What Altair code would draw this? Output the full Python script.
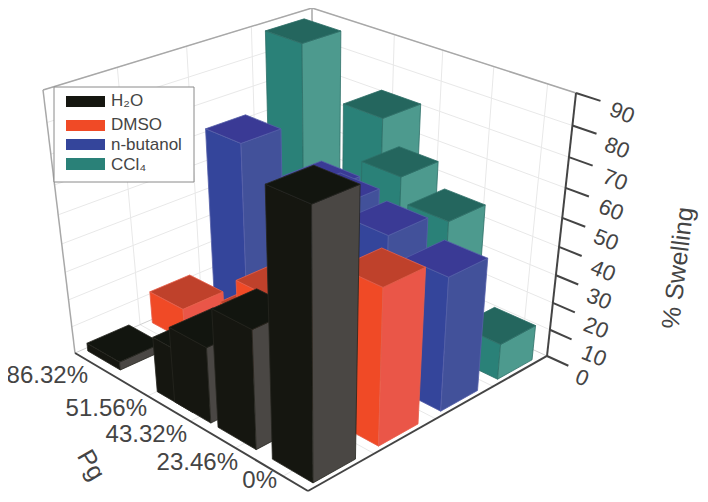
import numpy as np
import pandas as pd
import altair as alt

# ---- chart values ----
pg_levels = [86.32, 51.56, 43.32, 23.46, 0.0]
pg_labels = ["86.32%", "51.56%", "43.32%", "23.46%", "0%"]
solvents = ["H₂O", "DMSO", "n-butanol", "CCl₄"]
h2o = [3, 20, 27, 41.5, 88]
dmso = [12, 22, 33, 30, 54]
butanol = [62, 56.5, 55, 52, 47]
ccl4 = [88, 73, 56, 47.5, 13]
swelling_ticks = [0, 10, 20, 30, 40, 50, 60, 70, 80, 90]

# ---- styling ----
top_col = ["#12150f", "#bf412b", "#3a3a95", "#24665e"]
left_col = ["#151610", "#f04a26", "#34459b", "#2a8178"]
right_col = ["#4a4744", "#ea5648", "#42519a", "#4d9a8e"]
edge_col = ["#26261f", "#e8604a", "#5560a8", "#2f7068"]
text_col = "#444444"
font = "Liberation Sans"

# ---- 3D frame calibration ----
corners = [((0, 0, 0), (308, 491)), ((1, 0, 0), (75, 353)), ((0, 1, 0), (547, 356)),
           ((1, 0, 1), (43, 90)), ((0, 1, 1), (576, 93)), ((1, 1, 1), (312, 8))]
rows = []
for (X, Y, Z), (a, b) in corners:
    a, b = a / 500, b / 500
    rows.append([X, Y, Z, 1, 0, 0, 0, 0, -a * X, -a * Y, -a * Z, -a])
    rows.append([0, 0, 0, 0, X, Y, Z, 1, -b * X, -b * Y, -b * Z, -b])
P = np.linalg.svd(np.array(rows, float))[2][-1].reshape(3, 4)


def proj(u, v, w):
    q = P @ np.array([u, v, w, 1.0])
    return [float(q[0] / q[2] * 500 - 8), float(q[1] / q[2] * 500 - 8)]


def u_of(pg):
    return 0.095 + pg * 0.81 / 86.32


HALF_U, HALF_V = 0.078, 0.08
v_centers = [0.115, 0.365, 0.62, 0.87]
series = [h2o, dmso, butanol, ccl4]

# ---- bar faces, painted back to front ----
features = []


def face(points, fill, stroke):
    ring = [proj(*p) for p in points]
    ring.append(ring[0])
    features.append({"type": "Feature", "geometry": {"type": "Polygon", "coordinates": [ring]},
                     "properties": {"fill": fill, "stroke": stroke}})


for i, pg in enumerate(pg_levels):
    for s in [3, 2, 1, 0]:
        w = series[s][i] / 90
        u0, u1 = u_of(pg) - HALF_U, u_of(pg) + HALF_U
        v0, v1 = v_centers[s] - HALF_V, v_centers[s] + HALF_V
        face([(u0, v0, 0), (u1, v0, 0), (u1, v0, w), (u0, v0, w)], left_col[s], edge_col[s])
        face([(u0, v0, 0), (u0, v1, 0), (u0, v1, w), (u0, v0, w)], right_col[s], edge_col[s])
        face([(u0, v0, w), (u1, v0, w), (u1, v1, w), (u0, v1, w)], top_col[s], edge_col[s])

# ---- frame lines ----
grid, floor, frame, axes = [], [], [], []


def seg(store, a, b):
    p, q = proj(*a), proj(*b)
    store.append({"x": p[0], "y": p[1], "x2": q[0], "y2": q[1]})


for t in swelling_ticks[1:-1] + [90]:
    w = t / 90
    seg(grid, (1, 0, w), (1, 1, w))
    seg(grid, (1, 1, w), (0, 1, w))
for pg in [0, 20, 40, 60]:
    seg(grid, (u_of(pg), 1, 0), (u_of(pg), 1, 1))
    seg(grid, (u_of(pg), 0, 0), (u_of(pg), 1, 0))
for v in [0.25, 0.5, 0.75]:
    seg(grid, (1, v, 0), (1, v, 1))
    seg(grid, (0, v, 0), (1, v, 0))
seg(frame, (1, 0, 1), (1, 1, 1))
seg(frame, (1, 1, 1), (0, 1, 1))
seg(frame, (1, 0, 0), (1, 0, 1))
seg(frame, (1, 1, 1), (1, 1, 0.9))
seg(floor, (1, 0, 0), (1, 1, 0))
seg(floor, (1, 1, 0), (0, 1, 0))
seg(axes, (0, 0, 0), (1, 0, 0))
seg(axes, (0, 0, 0), (0, 1, 0))
seg(axes, (0, 1, 0), (0, 1, 1))
for t in swelling_ticks:
    seg(axes, (0, 1, t / 90), (-0.08, 1, t / 90))

# ---- labels ----
tick_pos = [(582, 378), (594, 356), (596, 328), (599, 299), (603, 271),
            (606, 240), (611, 210), (615, 180), (617, 148), (622, 113)]
tick_df = pd.DataFrame({"x": [p[0] - 8 for p in tick_pos], "y": [p[1] - 8 for p in tick_pos],
                        "t": [str(t) for t in swelling_ticks]})
pg_right = [88, 147, 187, 238, 277]
pg_y = [376, 409, 435, 463, 481]
pg_df = pd.DataFrame({"x": [a - 8 for a in pg_right], "y": [b - 8 for b in pg_y], "t": pg_labels})

X = alt.X("x:Q", scale=None, axis=None)
Y = alt.Y("y:Q", scale=None, axis=None)


def rules(data, color, width):
    return alt.Chart(pd.DataFrame(data)).mark_rule(color=color, strokeWidth=width).encode(
        x=X, y=Y, x2="x2:Q", y2="y2:Q")


def texts(df, size, **kw):
    return alt.Chart(df).mark_text(font=font, fontSize=size, color=text_col, baseline="middle", **kw).encode(
        x=X, y=Y, text="t:N")


bars = alt.Chart(alt.Data(values=features)).mark_geoshape(strokeWidth=0.8).encode(
    fill=alt.Fill("properties.fill:N", scale=None),
    stroke=alt.Stroke("properties.stroke:N", scale=None),
).project(type="identity", scale=1, translate=[0, 0])

pg_title = pd.DataFrame({"x": [83], "y": [457], "t": ["Pg"]})
sw_title = pd.DataFrame({"x": [670], "y": [260], "t": ["% Swelling"]})

# ---- legend ----
box = pd.DataFrame({"x": [46], "x2": [186], "y": [79], "y2": [174]})
legend_box = alt.Chart(box).mark_rect(fill="white", stroke="#8a8a8a", strokeWidth=1).encode(
    x=X, x2="x2:Q", y=Y, y2="y2:Q")
sw_y = [(88, 99), (112, 123), (131, 142), (150, 162)]
lab_y = [93, 117, 137, 157]
sw_df = pd.DataFrame({"x": [58] * 4, "x2": [97] * 4, "y": [a for a, b in sw_y], "y2": [b for a, b in sw_y],
                      "c": left_col})
swatches = alt.Chart(sw_df).mark_rect().encode(x=X, x2="x2:Q", y=Y, y2="y2:Q",
                                               color=alt.Color("c:N", scale=None))
lab_df = pd.DataFrame({"x": [103] * 4, "y": lab_y, "t": solvents})

chart = alt.layer(
    rules(grid, "#e8e8e8", 1),
    rules(floor, "#d0d0d0", 1),
    rules(frame, "#a8a8a8", 1.5),
    bars,
    rules(axes, "#444444", 2),
    legend_box, swatches,
    texts(lab_df, 17, align="left"),
    texts(tick_df, 22, align="center", angle=22),
    texts(pg_df, 24, align="right"),
    texts(pg_title, 25, align="center", angle=60),
    texts(sw_title, 25, align="center", angle=277),
).properties(width=692, height=486, padding=0, background="white",
             autosize=alt.AutoSizeParams(type="none")).configure_view(stroke=None)

chart.save("out.html", embed_options={"renderer": "svg", "actions": False})
